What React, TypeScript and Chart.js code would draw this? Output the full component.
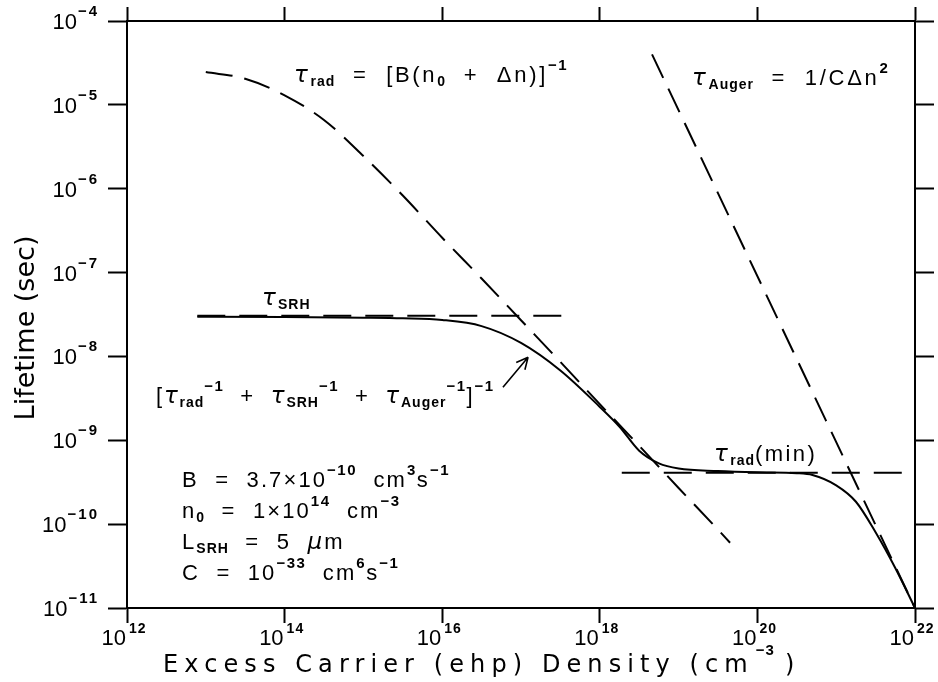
import React, { useEffect, useRef } from 'react';
import { Chart, registerables } from 'chart.js';

Chart.register(...registerables);

// ---- data (log-log) ----
const xTicks = [1e12, 1e14, 1e16, 1e18, 1e20, 1e22];
const xTickExp = ['12', '14', '16', '18', '20', '22'];
const yTicks = [1e-11, 1e-10, 1e-9, 1e-8, 1e-7, 1e-6, 1e-5, 1e-4];
const yTickExp = ['\u221211', '\u221210', '\u22129', '\u22128', '\u22127', '\u22126', '\u22125', '\u22124'];

// tau_rad = [B(n0 + dn)]^-1 (dashed)
const radX = [1e13, 3.16e13, 1e14, 3.16e14, 1e15, 3.16e15, 1e16, 3.16e16, 1e17, 3.16e17, 1e18, 3.16e18, 1e19, 3.16e19, 4.5e19];
const radY = [2.46e-5, 2.05e-5, 1.3e-5, 6.6e-6, 2.45e-6, 8.3e-7, 2.6e-7, 8.5e-8, 2.7e-8, 8.6e-9, 2.7e-9, 8.6e-10, 2.7e-10, 8.6e-11, 6e-11];

// tau_SRH (dashed, flat)
const srhX = [7.8e12, 4.6e17];
const srhY = [3.05e-8, 3.05e-8];

// tau_rad(min) (dashed, flat)
const minX = [1.9e18, 1e22];
const minY = [4.1e-10, 4.1e-10];

// tau_Auger = 1/(C dn^2) (dashed)
const augerX = [4.6e18, 1e22];
const augerY = [4.0e-5, 1e-11];

// total lifetime (solid)
const totX = [7.8e12, 1e13, 1e14, 1e15, 3.16e15, 1e16, 3.16e16, 1e17, 3.16e17, 1e18, 1.78e18, 3.16e18, 5.62e18, 1e19, 3.16e19, 1e20, 3.16e20, 5e20, 1e21, 1.78e21, 3.16e21, 5.62e21, 1e22];
const totY = [2.97e-8, 2.97e-8, 2.95e-8, 2.9e-8, 2.85e-8, 2.72e-8, 2.3e-8, 1.45e-8, 6.8e-9, 2.5e-9, 1.45e-9, 7.5e-10, 5.3e-10, 4.6e-10, 4.3e-10, 4.15e-10, 4.05e-10, 3.85e-10, 2.9e-10, 1.85e-10, 8e-11, 3e-11, 1e-11];

// arrow annotation (data coordinates)
const arrowFrom = { x: 5.9e16, y: 4.3e-9 };
const arrowTo = { x: 1.23e17, y: 9.8e-9 };

type Seg = [string, string?];

const MAIN = '"Liberation Sans", Arial, sans-serif';

function rich(ctx: CanvasRenderingContext2D, segs: Seg[], x: number, y: number, ls = 2.1, size = 22) {
  let cx = x;
  ctx.textAlign = 'left';
  ctx.textBaseline = 'alphabetic';
  for (const [t, k = 'n'] of segs) {
    let dy = 0;
    if (k === 't') {
      ctx.font = `italic ${size + 1}px "DejaVu Sans", sans-serif`;
      ctx.letterSpacing = ls + 'px';
    } else if (k === 'b') {
      ctx.font = `bold ${Math.round(size * 0.64)}px ${MAIN}`;
      ctx.letterSpacing = '1px';
      dy = 4;
    } else if (k === 'p') {
      ctx.font = `bold ${Math.round(size * 0.66)}px ${MAIN}`;
      ctx.letterSpacing = '1.5px';
      dy = -12;
    } else {
      ctx.font = `${size}px ${MAIN}`;
      ctx.letterSpacing = ls + 'px';
    }
    ctx.fillText(t, cx, y + dy);
    cx += ctx.measureText(t).width;
  }
  ctx.letterSpacing = '0px';
  return cx;
}

const textPlugin = {
  id: 'textPlugin',
  afterDraw(chart: any) {
    const ctx: CanvasRenderingContext2D = chart.ctx;
    const xs = chart.scales.x;
    const ys = chart.scales.y;
    ctx.save();
    ctx.fillStyle = '#000';
    ctx.strokeStyle = '#000';

    // x tick labels
    xTicks.forEach((v, i) => {
      const px = xs.getPixelForValue(v);
      ctx.font = `22px ${MAIN}`;
      ctx.textAlign = 'right';
      ctx.textBaseline = 'alphabetic';
      ctx.fillText('10', px - 1, 645);
      ctx.font = `bold 14px ${MAIN}`;
      ctx.textAlign = 'left';
      ctx.letterSpacing = '1px';
      ctx.fillText(xTickExp[i], px + 2, 633);
      ctx.letterSpacing = '0px';
    });

    // y tick labels
    yTicks.forEach((v, i) => {
      const py = ys.getPixelForValue(v);
      ctx.font = `bold 15px ${MAIN}`;
      ctx.letterSpacing = '2px';
      const w = ctx.measureText(yTickExp[i]).width;
      ctx.textAlign = 'left';
      ctx.textBaseline = 'alphabetic';
      ctx.fillText(yTickExp[i], 99 - w, py - 5);
      ctx.letterSpacing = '0px';
      ctx.font = `22px ${MAIN}`;
      ctx.textAlign = 'right';
      ctx.fillText('10', 99 - w - 1, py + 8);
    });

    // axis titles
    ctx.textAlign = 'left';
    ctx.font = `24px "DejaVu Sans", sans-serif`;
    ctx.letterSpacing = '6.1px';
    const t1 = 'Excess Carrier (ehp) Density (cm';
    ctx.fillText(t1, 163, 672);
    let cx = 163 + ctx.measureText(t1).width + 2;
    ctx.font = `bold 15px ${MAIN}`;
    ctx.letterSpacing = '1px';
    ctx.fillText('\u22123', cx, 655);
    cx += ctx.measureText('\u22123').width + 10;
    ctx.font = `24px "DejaVu Sans", sans-serif`;
    ctx.fillText(')', cx, 672);
    ctx.letterSpacing = '0px';

    ctx.save();
    ctx.translate(34, 328);
    ctx.rotate(-Math.PI / 2);
    ctx.textAlign = 'center';
    ctx.font = `27px "DejaVu Sans", sans-serif`;
    ctx.fillText('Lifetime (sec)', 0, 0);
    ctx.restore();

    // annotations
    rich(ctx, [['\u03c4', 't'], ['rad', 'b'], ['  =  [B(n'], ['0', 'b'], ['  +  \u0394n)]'], ['\u22121', 'p']], 294, 82, 2.7);
    rich(ctx, [['\u03c4', 't'], ['Auger', 'b'], ['  =  1/C\u0394n'], ['2', 'p']], 692, 85, 2.7);
    rich(ctx, [['\u03c4', 't'], ['SRH', 'b']], 262, 305);
    rich(ctx, [['['], ['\u03c4', 't'], ['rad', 'b'], ['\u22121', 'p'], ['  +  '], ['\u03c4', 't'], ['SRH', 'b'], ['\u22121', 'p'], ['  +  '], ['\u03c4', 't'], ['Auger', 'b'], ['\u22121', 'p'], [']'], ['\u22121', 'p']], 156, 403, 1.8);
    rich(ctx, [['\u03c4', 't'], ['rad', 'b'], ['(min)']], 714, 461, 2.4);

    rich(ctx, [['B  =  3.7\u00d710'], ['\u221210', 'p'], ['  cm'], ['3', 'p'], ['s'], ['\u22121', 'p']], 182, 487);
    rich(ctx, [['n'], ['0', 'b'], ['  =  1\u00d710'], ['14', 'p'], ['  cm'], ['\u22123', 'p']], 182, 518);
    rich(ctx, [['L'], ['SRH', 'b'], ['  =  5  '], ['\u03bc', 't'], ['m']], 182, 549);
    rich(ctx, [['C  =  10'], ['\u221233', 'p'], ['  cm'], ['6', 'p'], ['s'], ['\u22121', 'p']], 182, 580);

    // arrow
    const ax0 = xs.getPixelForValue(arrowFrom.x), ay0 = ys.getPixelForValue(arrowFrom.y);
    const ax1 = xs.getPixelForValue(arrowTo.x), ay1 = ys.getPixelForValue(arrowTo.y);
    ctx.lineWidth = 1.6;
    ctx.beginPath();
    ctx.moveTo(ax0, ay0);
    ctx.lineTo(ax1, ay1);
    const ang = Math.atan2(ay1 - ay0, ax1 - ax0);
    const hl = 13;
    ctx.moveTo(ax1, ay1);
    ctx.lineTo(ax1 - hl * Math.cos(ang - 0.45), ay1 - hl * Math.sin(ang - 0.45));
    ctx.moveTo(ax1, ay1);
    ctx.lineTo(ax1 - hl * Math.cos(ang + 0.45), ay1 - hl * Math.sin(ang + 0.45));
    ctx.stroke();
    ctx.restore();
  },
};

function series(label: string, xs: number[], ys: number[], dash: number[], width = 2) {
  return {
    label,
    data: xs.map((x, i) => ({ x, y: ys[i] })),
    borderColor: '#000',
    backgroundColor: '#000',
    borderWidth: width,
    borderDash: dash,
    pointRadius: 0,
    fill: false,
    cubicInterpolationMode: 'monotone' as const,
  };
}

function axis(position: string, ticks: number[], min: number, max: number, size: number, tl: number) {
  const horizontal = position === 'top' || position === 'bottom';
  return {
    type: 'logarithmic' as const,
    axis: horizontal ? 'x' : 'y',
    position,
    min,
    max,
    afterBuildTicks: (s: any) => {
      s.ticks = ticks.map((v) => ({ value: v }));
    },
    afterFit: (s: any) => {
      if (horizontal) s.height = size;
      else s.width = size;
    },
    ticks: { display: false },
    grid: {
      display: true,
      drawOnChartArea: false,
      drawTicks: true,
      tickLength: tl,
      tickWidth: 2,
      tickColor: '#000',
    },
    border: { display: true, color: '#000', width: 2 },
    title: { display: false },
  };
}

export default function App() {
  const ref = useRef<HTMLCanvasElement | null>(null);
  useEffect(() => {
    document.body.style.margin = '0';
    const canvas = ref.current;
    if (!canvas) return;
    const chart = new Chart(canvas, {
      type: 'line',
      data: {
        datasets: [
          series('tau_rad', radX, radY, [27, 12]),
          series('tau_SRH', srhX, srhY, [28, 14]),
          series('tau_rad(min)', minX, minY, [28, 14]),
          series('tau_Auger', augerX, augerY, [26, 12]),
          series('total', totX, totY, [], 2),
        ] as any,
      },
      options: {
        animation: false,
        responsive: true,
        maintainAspectRatio: false,
        layout: { padding: 0 },
        plugins: {
          legend: { display: false },
          tooltip: { enabled: false },
          title: { display: false },
        },
        scales: {
          x: axis('bottom', xTicks, 1e12, 1e22, 74, 15),
          x2: axis('top', xTicks, 1e12, 1e22, 21, 14),
          y: axis('left', yTicks, 1e-11, 1e-4, 127, 19),
          y2: axis('right', yTicks, 1e-11, 1e-4, 23, 19),
        } as any,
      },
      plugins: [textPlugin],
    });
    return () => chart.destroy();
  }, []);
  return (
    <div style={{ width: 938, height: 682, position: 'relative', background: '#fff' }}>
      <canvas ref={ref} />
    </div>
  );
}
